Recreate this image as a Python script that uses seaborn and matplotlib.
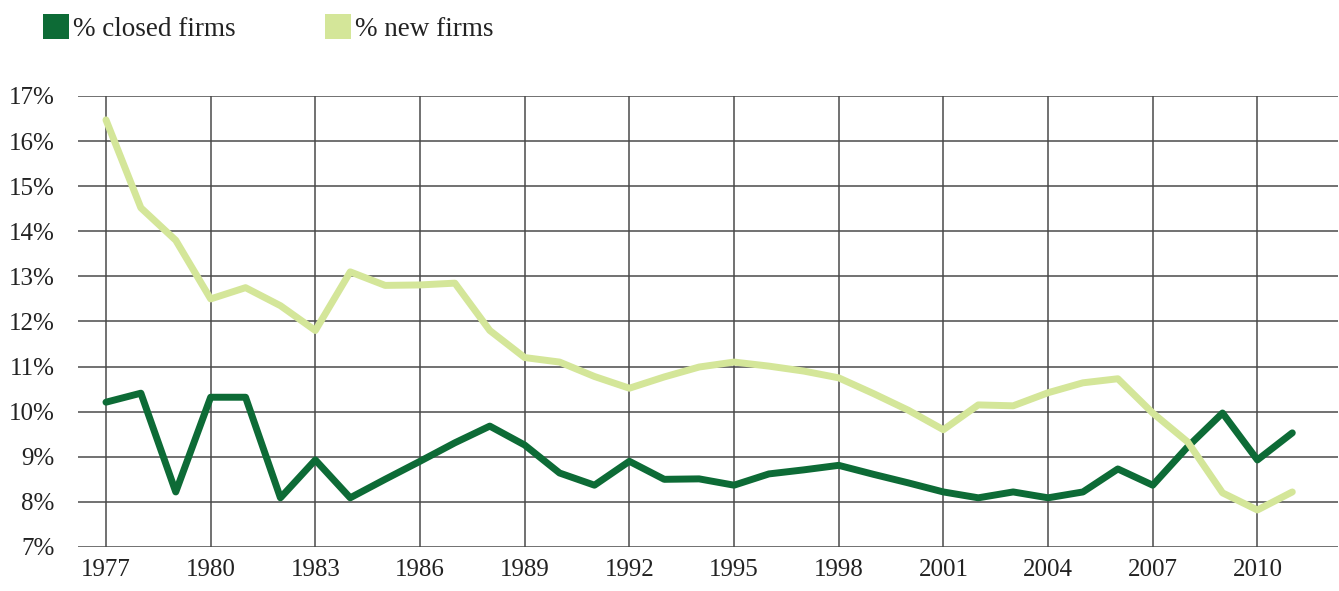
import numpy as np
import pandas as pd
import matplotlib
matplotlib.use("Agg")
import matplotlib.pyplot as plt
from matplotlib.patches import Patch
import seaborn as sns

years = list(range(1977, 2012))
closed_firms = [10.21, 10.41, 8.22, 10.32, 10.32, 8.09, 8.93, 8.09, 8.50, 8.90,
                9.31, 9.68, 9.26, 8.64, 8.37, 8.90, 8.50, 8.51, 8.37, 8.62,
                8.71, 8.81, 8.61, 8.42, 8.22, 8.09, 8.22, 8.09, 8.22, 8.73,
                8.37, 9.22, 9.97, 8.93, 9.53]
new_firms = [16.47, 14.52, 13.80, 12.50, 12.75, 12.35, 11.80, 13.10, 12.80, 12.81,
             12.85, 11.80, 11.20, 11.10, 10.78, 10.52, 10.77, 10.99, 11.10, 11.01,
             10.90, 10.75, 10.40, 10.03, 9.60, 10.15, 10.13, 10.42, 10.64, 10.73,
             9.97, 9.33, 8.20, 7.82, 8.22]
series_names = ["% closed firms", "% new firms"]
colors = ["#0D6B36", "#D4E699"]
x_ticks = list(range(1977, 2011, 3))
y_ticks = list(range(7, 18))

df = pd.DataFrame({
    "year": years * 2,
    "value": closed_firms + new_firms,
    "series": [series_names[0]] * len(years) + [series_names[1]] * len(years),
})

sns.set_theme(style="white")
plt.rcParams["font.family"] = ["Liberation Serif", "DejaVu Serif"]

fig = plt.figure(figsize=(13.39, 5.91), dpi=100)
ax = fig.add_axes([0.0583, 0.0745, 0.9407, 0.7631])

sns.lineplot(data=df, x="year", y="value", hue="series", palette=colors,
             linewidth=5.0, ax=ax, legend=False, zorder=3)

ax.set_xlim(1976.2, 2012.3)
ax.set_ylim(7, 17)
ax.set_xticks(x_ticks)
ax.set_yticks(y_ticks)
ax.set_yticklabels([f"{v}%" for v in y_ticks])
ax.grid(True, color="#4a4a4a", linewidth=1.1)
ax.set_axisbelow(True)
for s in ax.spines.values():
    s.set_visible(False)
ax.tick_params(axis="both", length=0, labelsize=18, colors="#222222")
ax.tick_params(axis="y", pad=17)
ax.tick_params(axis="x", pad=9)
ax.set_xlabel("")
ax.set_ylabel("")

handles = [Patch(facecolor=c, edgecolor="none", label=n) for c, n in zip(colors, series_names)]
fig.legend(handles=handles, loc="upper left", bbox_to_anchor=(43 / 1339, 1 - 14 / 591),
           ncol=2, frameon=False, fontsize=19.5, handlelength=0.95, handleheight=1.05,
           handletextpad=0.15, columnspacing=3.3, borderpad=0, borderaxespad=0,
           labelcolor="#222222")

fig.savefig("out.png", dpi=100)
